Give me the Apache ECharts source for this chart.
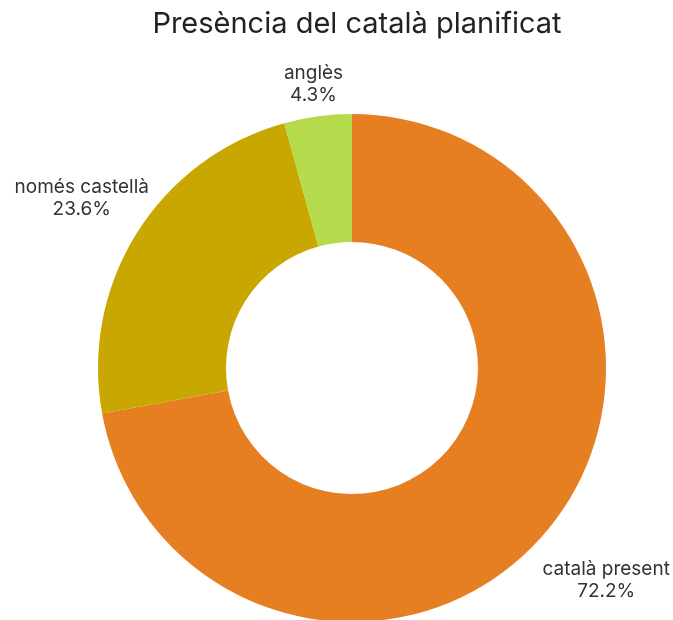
<!DOCTYPE html>
<html>
<head>
<meta charset="utf-8">
<script src="https://cdn.jsdelivr.net/npm/echarts@6/dist/echarts.min.js"></script>
<style>html,body{margin:0;padding:0;background:#fff}#c{width:673px;height:620px}</style>
</head>
<body>
<div id="c"></div>
<script>
const categories = ['català present', 'només castellà', 'anglès'];
const values = [72.2, 23.6, 4.3];
const colors = ['#E67E22', '#C8A800', '#B5DB4C'];
const labelGap = [77, 65, 32];

const chart = echarts.init(document.getElementById('c'), null, {renderer: 'canvas'});
chart.setOption({
  animation: false,
  backgroundColor: '#ffffff',
  title: {
    text: 'Presència del català planificat',
    left: 352,
    textAlign: 'center',
    top: 5,
    textStyle: {fontFamily: 'Inter', fontSize: 29, fontWeight: 'normal', color: '#222'}
  },
  series: [{
    type: 'pie',
    center: [352, 368],
    radius: [126, 254],
    startAngle: 90,
    clockwise: true,
    avoidLabelOverlap: false,
    data: categories.map((n, i) => ({name: n, value: values[i], itemStyle: {color: colors[i]}})),
    label: {
      show: true,
      position: 'outside',
      formatter: '{b}\n{c}%',
      fontFamily: 'Inter',
      fontSize: 19,
      lineHeight: 22,
      color: '#333'
    },
    labelLine: {show: true, length: 10, length2: 0, lineStyle: {opacity: 0, width: 0}},
    labelLayout: function (p) {
      const pts = p.labelLinePoints;
      if (!pts) return {};
      const dx = pts[1][0] - pts[0][0], dy = pts[1][1] - pts[0][1];
      const L = Math.sqrt(dx * dx + dy * dy) || 1;
      const g = labelGap[p.dataIndex];
      return {
        x: pts[0][0] + dx / L * g,
        y: pts[0][1] + dy / L * g,
        align: 'center',
        verticalAlign: 'middle'
      };
    },
    emphasis: {disabled: true}
  }]
});
</script>
</body>
</html>
